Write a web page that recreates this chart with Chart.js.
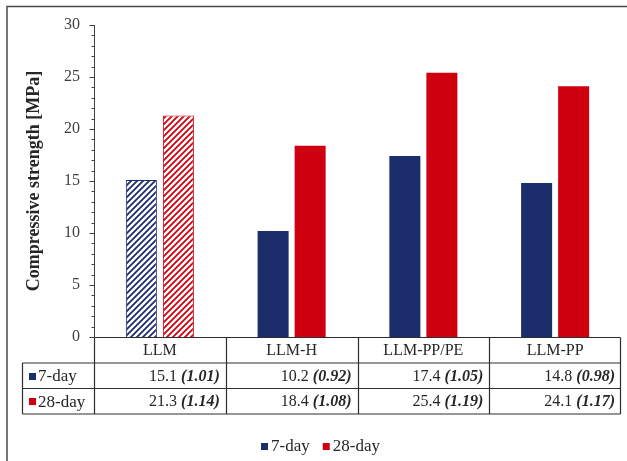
<!DOCTYPE html>
<html>
<head>
<meta charset="utf-8">
<style>
  html, body { margin: 0; padding: 0; background: #ffffff; }
  #wrap { position: relative; width: 627px; height: 461px; }
</style>
<script src="https://cdn.jsdelivr.net/npm/chart.js@4"></script>
</head>
<body>
<div id="wrap"><canvas id="c" width="627" height="461"></canvas></div>
<script>
// Mixes and measured compressive strengths
const categories = ['LLM', 'LLM-H', 'LLM-PP/PE', 'LLM-PP'];
const seriesNames = ['7-day', '28-day'];
const strength7 = [15.1, 10.2, 17.4, 14.8];
const strength28 = [21.3, 18.4, 25.4, 24.1];
// Ratios printed in brackets next to each value
const ratio7 = [1.01, 0.92, 1.05, 0.98];
const ratio28 = [1.14, 1.08, 1.19, 1.17];
const yTicks = [0, 5, 10, 15, 20, 25, 30];

const NAVY = '#1b2d6b';
const RED = '#cf0010';
const SERIF = '"Liberation Serif", "Times New Roman", serif';
const TEXT = '#262626';

function stripes(color) {
  const s = 6;
  const cv = document.createElement('canvas');
  cv.width = s; cv.height = s;
  const g = cv.getContext('2d');
  g.fillStyle = '#ffffff';
  g.fillRect(0, 0, s, s);
  g.strokeStyle = color;
  g.lineWidth = 1.8;
  g.beginPath();
  g.moveTo(-1, s + 1); g.lineTo(s + 1, -1);
  g.moveTo(-1, 1); g.lineTo(1, -1);
  g.moveTo(s - 1, s + 1); g.lineTo(s + 1, s - 1);
  g.stroke();
  return document.getElementById('c').getContext('2d').createPattern(cv, 'repeat');
}
const hatchNavy = stripes(NAVY);
const hatchRed = stripes(RED);

// Frame, minor/major ticks, data table and legend
const extras = {
  id: 'extras',
  beforeDraw(chart) {
    const ctx = chart.ctx;
    ctx.save();
    ctx.fillStyle = '#ffffff';
    ctx.fillRect(0, 0, chart.width, chart.height);
    ctx.strokeStyle = '#4a4a4a';
    ctx.lineWidth = 1.5;
    ctx.beginPath();
    ctx.moveTo(7, chart.height);
    ctx.lineTo(7, 6.5);
    ctx.lineTo(chart.width, 6.5);
    ctx.stroke();
    ctx.restore();
  },
  afterDraw(chart) {
    const ctx = chart.ctx;
    const y = chart.scales.y;
    const x = chart.scales.x;
    const area = chart.chartArea;
    const left = Math.round(area.left) + 0.5;
    const right = Math.round(area.right) - 0.5;
    ctx.save();

    // y axis line and ticks
    ctx.strokeStyle = '#404040';
    ctx.lineWidth = 1;
    ctx.beginPath();
    ctx.moveTo(left, y.getPixelForValue(y.max));
    ctx.lineTo(left, y.getPixelForValue(0));
    for (let v = y.min; v <= y.max; v++) {
      const py = Math.round(y.getPixelForValue(v)) + 0.5;
      const len = v % 5 === 0 ? 5 : 3;
      ctx.moveTo(left - len, py);
      ctx.lineTo(left, py);
    }
    ctx.stroke();

    // data table beneath the plot
    const rowH = 25.5;
    const top = Math.round(y.getPixelForValue(0)) + 0.5;
    const r1 = top + rowH, r2 = top + 2 * rowH, r3 = top + 3 * rowH;
    const tableLeft = 22.5;
    const step = (area.right - area.left) / categories.length;
    ctx.strokeStyle = '#2e2e2e';
    ctx.lineWidth = 1.2;
    ctx.beginPath();
    ctx.moveTo(left, top); ctx.lineTo(right, top);
    ctx.moveTo(tableLeft, r1); ctx.lineTo(right, r1);
    ctx.moveTo(tableLeft, r2); ctx.lineTo(right, r2);
    ctx.moveTo(tableLeft, r3); ctx.lineTo(right, r3);
    ctx.moveTo(left, top); ctx.lineTo(left, r3);
    ctx.moveTo(tableLeft, r1); ctx.lineTo(tableLeft, r3);
    for (let i = 1; i <= categories.length; i++) {
      const cx = i === categories.length ? right : Math.round(area.left + step * i) + 0.5;
      ctx.moveTo(cx, top); ctx.lineTo(cx, r3);
    }
    ctx.stroke();

    ctx.fillStyle = TEXT;
    ctx.textBaseline = 'middle';
    ctx.font = '16px ' + SERIF;
    ctx.textAlign = 'center';
    categories.forEach((c, i) => {
      ctx.fillText(c, x.getPixelForValue(i), top + rowH / 2 + 1);
    });

    const rows = [
      { name: seriesNames[0], color: NAVY, vals: strength7, ratios: ratio7, mid: r1 + rowH / 2 + 1 },
      { name: seriesNames[1], color: RED, vals: strength28, ratios: ratio28, mid: r2 + rowH / 2 + 1 }
    ];
    rows.forEach(r => {
      ctx.fillStyle = r.color;
      ctx.fillRect(29, Math.round(r.mid) - 4, 7, 7);
      ctx.fillStyle = TEXT;
      ctx.textAlign = 'left';
      ctx.font = '17px ' + SERIF;
      ctx.fillText(r.name, 38, r.mid);
      r.vals.forEach((v, i) => {
        const cellRight = area.left + step * (i + 1) - 6;
        const ital = '(' + r.ratios[i].toFixed(2) + ')';
        ctx.font = 'italic bold 16px ' + SERIF;
        const w = ctx.measureText(ital).width;
        ctx.textAlign = 'right';
        ctx.fillText(ital, cellRight, r.mid);
        ctx.font = '16px ' + SERIF;
        ctx.fillText(v.toFixed(1) + ' ', cellRight - w, r.mid);
      });
    });

    // legend
    ctx.font = '17px ' + SERIF;
    ctx.textAlign = 'left';
    const ly = 447;
    const items = [{ t: seriesNames[0], c: NAVY }, { t: seriesNames[1], c: RED }];
    const widths = items.map(it => 7 + 3 + ctx.measureText(it.t).width);
    const gap = 13;
    let lx = (chart.width + 14) / 2 - (widths[0] + widths[1] + gap) / 2;
    items.forEach((it, k) => {
      ctx.fillStyle = it.c;
      ctx.fillRect(lx, ly - 4, 7, 7);
      ctx.fillStyle = TEXT;
      ctx.fillText(it.t, lx + 10, ly);
      lx += widths[k] + gap;
    });
    ctx.restore();
  }
};

new Chart(document.getElementById('c'), {
  type: 'bar',
  data: {
    labels: categories,
    datasets: [
      {
        label: seriesNames[0],
        data: strength7,
        backgroundColor: [hatchNavy, NAVY, NAVY, NAVY],
        borderColor: NAVY,
        borderWidth: [1, 0, 0, 0],
        categoryPercentage: 0.562,
        barPercentage: 0.838
      },
      {
        label: seriesNames[1],
        data: strength28,
        backgroundColor: [hatchRed, RED, RED, RED],
        borderColor: RED,
        borderWidth: [1, 0, 0, 0],
        categoryPercentage: 0.562,
        barPercentage: 0.838
      }
    ]
  },
  options: {
    responsive: false,
    animation: false,
    devicePixelRatio: 1,
    layout: { padding: { left: 0, right: 6, top: 25, bottom: 47 } },
    plugins: { legend: { display: false }, tooltip: { enabled: false } },
    scales: {
      x: {
        type: 'category',
        ticks: { display: false },
        grid: { display: false, drawTicks: false },
        border: { display: false },
        afterFit(s) { s.height = 77; }
      },
      y: {
        min: 0,
        max: 30,
        afterBuildTicks(s) { s.ticks = yTicks.map(v => ({ value: v })); },
        ticks: {
          padding: 14,
          color: '#404040',
          font: { family: SERIF, size: 16 }
        },
        grid: { display: false, drawTicks: false },
        border: { display: false },
        title: {
          display: true,
          text: 'Compressive strength [MPa]',
          color: TEXT,
          font: { family: SERIF, size: 18, weight: 'bold' },
          padding: { top: 24, bottom: 0 }
        },
        afterFit(s) { s.width = 94; }
      }
    }
  },
  plugins: [extras]
});
</script>
</body>
</html>
